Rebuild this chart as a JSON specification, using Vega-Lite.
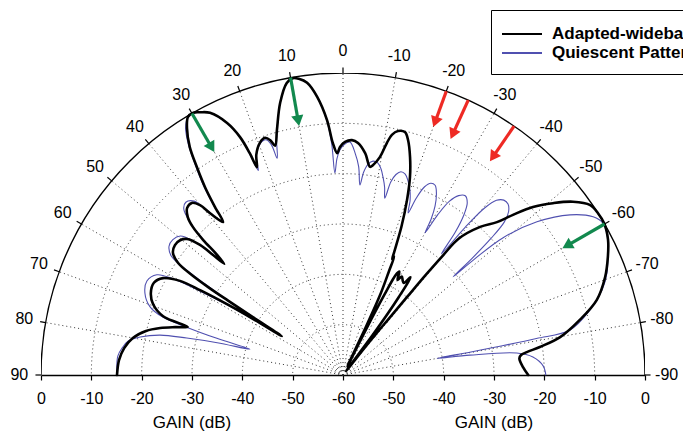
{
"$schema":"https://vega.github.io/schema/vega-lite/v6.json",
"width":604,"height":302,
"autosize":{"type":"none"},
"padding":{"left":41,"top":73,"right":38,"bottom":57},
"background":"#ffffff",
"config":{"view":{"stroke":null},"font":"Liberation Sans",
 "axisX":{"grid":false,"domainColor":"#000000","domainWidth":1.3,"tickColor":"#000000","tickWidth":1.2,"tickSize":5,"labelFontSize":16,"labelColor":"#000000","labelPadding":10,"labelFont":"Liberation Sans","labelFlush":false,"labelOverlap":false}},
"datasets":{
"rings":[{"g":-50},{"g":-40},{"g":-30},{"g":-20},{"g":-10}],
"outer":[{"g":0}],
"angles":[{"a":-90},{"a":-80},{"a":-70},{"a":-60},{"a":-50},{"a":-40},{"a":-30},{"a":-20},{"a":-10},{"a":0},{"a":10},{"a":20},{"a":30},{"a":40},{"a":50},{"a":60},{"a":70},{"a":80},{"a":90}],
"arrows":[{"kind":"peak","a":30,"g0":0,"g1":-7.8},{"kind":"peak","a":10,"g0":0,"g1":-8.7},{"kind":"peak","a":-60,"g0":0,"g1":-8.6},{"kind":"null","a":-20,"g0":0,"g1":-6.5},{"kind":"null","a":-24.5,"g0":0,"g1":-7.4},{"kind":"null","a":-34.5,"g0":0,"g1":-7.4}],
"titles":[{"x":-30,"t":"GAIN (dB)"},{"x":30,"t":"GAIN (dB)"}],
"pattern":[
{"s":"Quiescent Pattern","a":90,"g":-15.1},{"s":"Quiescent Pattern","a":85.2,"g":-15.1},{"s":"Quiescent Pattern","a":83.0,"g":-15.8},{"s":"Quiescent Pattern","a":81.0,"g":-16.8},{"s":"Quiescent Pattern","a":79.4,"g":-19},{"s":"Quiescent Pattern","a":77.7,"g":-22.8},{"s":"Quiescent Pattern","a":76.7,"g":-28.1},{"s":"Quiescent Pattern","a":75.6,"g":-34.2},{"s":"Quiescent Pattern","a":74.5,"g":-40.8},{"s":"Quiescent Pattern","a":73.8,"g":-33.9},{"s":"Quiescent Pattern","a":73.0,"g":-27.5},{"s":"Quiescent Pattern","a":72.2,"g":-22.4},{"s":"Quiescent Pattern","a":70.5,"g":-19.3},{"s":"Quiescent Pattern","a":67.5,"g":-17.4},{"s":"Quiescent Pattern","a":64.4,"g":-16.8},{"s":"Quiescent Pattern","a":61.7,"g":-18},{"s":"Quiescent Pattern","a":60.5,"g":-21.2},{"s":"Quiescent Pattern","a":59.6,"g":-27},{"s":"Quiescent Pattern","a":58.8,"g":-33},{"s":"Quiescent Pattern","a":58.2,"g":-39},{"s":"Quiescent Pattern","a":57.6,"g":-45},{"s":"Quiescent Pattern","a":57.2,"g":-38.5},{"s":"Quiescent Pattern","a":57.0,"g":-32},{"s":"Quiescent Pattern","a":56.6,"g":-27},{"s":"Quiescent Pattern","a":56.0,"g":-21.5},{"s":"Quiescent Pattern","a":55.3,"g":-18.5},{"s":"Quiescent Pattern","a":53.5,"g":-17},{"s":"Quiescent Pattern","a":51.5,"g":-16.8},{"s":"Quiescent Pattern","a":49.5,"g":-17.5},{"s":"Quiescent Pattern","a":48.2,"g":-20},{"s":"Quiescent Pattern","a":47.4,"g":-24},{"s":"Quiescent Pattern","a":46.9,"g":-27.7},{"s":"Quiescent Pattern","a":46.3,"g":-24},{"s":"Quiescent Pattern","a":45.8,"g":-20.5},{"s":"Quiescent Pattern","a":45.0,"g":-17},{"s":"Quiescent Pattern","a":43.8,"g":-14.3},{"s":"Quiescent Pattern","a":42.3,"g":-13.6},{"s":"Quiescent Pattern","a":40.6,"g":-14.5},{"s":"Quiescent Pattern","a":39.6,"g":-17.5},{"s":"Quiescent Pattern","a":38.1,"g":-21.4},{"s":"Quiescent Pattern","a":37.3,"g":-17.5},{"s":"Quiescent Pattern","a":36.3,"g":-13},{"s":"Quiescent Pattern","a":35.1,"g":-9},{"s":"Quiescent Pattern","a":33.9,"g":-5},{"s":"Quiescent Pattern","a":32.5,"g":-1.8},{"s":"Quiescent Pattern","a":31.0,"g":-0.2},{"s":"Quiescent Pattern","a":29.7,"g":0},{"s":"Quiescent Pattern","a":28.5,"g":-0.6},{"s":"Quiescent Pattern","a":26.9,"g":-1.6},{"s":"Quiescent Pattern","a":24.7,"g":-4.9},{"s":"Quiescent Pattern","a":23.4,"g":-8.5},{"s":"Quiescent Pattern","a":22.9,"g":-12},{"s":"Quiescent Pattern","a":22.5,"g":-16},{"s":"Quiescent Pattern","a":21.5,"g":-13},{"s":"Quiescent Pattern","a":19.7,"g":-11.2},{"s":"Quiescent Pattern","a":18.2,"g":-10.8},{"s":"Quiescent Pattern","a":17.3,"g":-12},{"s":"Quiescent Pattern","a":16.9,"g":-15},{"s":"Quiescent Pattern","a":15.8,"g":-11.5},{"s":"Quiescent Pattern","a":15.0,"g":-9.4},{"s":"Quiescent Pattern","a":13.0,"g":-4.5},{"s":"Quiescent Pattern","a":10.9,"g":-0.9},{"s":"Quiescent Pattern","a":9.6,"g":-0.2},{"s":"Quiescent Pattern","a":8.5,"g":-0.5},{"s":"Quiescent Pattern","a":7.0,"g":-1.5},{"s":"Quiescent Pattern","a":5.3,"g":-4.5},{"s":"Quiescent Pattern","a":3.6,"g":-9.5},{"s":"Quiescent Pattern","a":2.8,"g":-14},{"s":"Quiescent Pattern","a":2.3,"g":-19.8},{"s":"Quiescent Pattern","a":1.6,"g":-17},{"s":"Quiescent Pattern","a":0.8,"g":-15.3},{"s":"Quiescent Pattern","a":-0.3,"g":-14.2},{"s":"Quiescent Pattern","a":-1.7,"g":-13.7},{"s":"Quiescent Pattern","a":-3.1,"g":-15.8},{"s":"Quiescent Pattern","a":-4.3,"g":-18.5},{"s":"Quiescent Pattern","a":-5.1,"g":-22.1},{"s":"Quiescent Pattern","a":-5.8,"g":-19.5},{"s":"Quiescent Pattern","a":-6.8,"g":-17.8},{"s":"Quiescent Pattern","a":-8.0,"g":-17.1},{"s":"Quiescent Pattern","a":-9.3,"g":-17.3},{"s":"Quiescent Pattern","a":-10.4,"g":-18.3},{"s":"Quiescent Pattern","a":-11.5,"g":-20},{"s":"Quiescent Pattern","a":-12.5,"g":-21.8},{"s":"Quiescent Pattern","a":-13.3,"g":-23.9},{"s":"Quiescent Pattern","a":-13.9,"g":-20.5},{"s":"Quiescent Pattern","a":-14.8,"g":-18.8},{"s":"Quiescent Pattern","a":-15.9,"g":-18.0},{"s":"Quiescent Pattern","a":-17.2,"g":-18.2},{"s":"Quiescent Pattern","a":-18.5,"g":-19.3},{"s":"Quiescent Pattern","a":-19.8,"g":-20.8},{"s":"Quiescent Pattern","a":-21.0,"g":-22.8},{"s":"Quiescent Pattern","a":-21.9,"g":-25.3},{"s":"Quiescent Pattern","a":-22.5,"g":-22},{"s":"Quiescent Pattern","a":-23.4,"g":-19.3},{"s":"Quiescent Pattern","a":-24.6,"g":-18.1},{"s":"Quiescent Pattern","a":-25.9,"g":-18.1},{"s":"Quiescent Pattern","a":-27.2,"g":-19.4},{"s":"Quiescent Pattern","a":-28.6,"g":-21.8},{"s":"Quiescent Pattern","a":-29.5,"g":-24.5},{"s":"Quiescent Pattern","a":-30.0,"g":-27.4},{"s":"Quiescent Pattern","a":-30.6,"g":-23},{"s":"Quiescent Pattern","a":-31.5,"g":-19.5},{"s":"Quiescent Pattern","a":-32.8,"g":-17.6},{"s":"Quiescent Pattern","a":-34.3,"g":-16.9},{"s":"Quiescent Pattern","a":-35.8,"g":-17.8},{"s":"Quiescent Pattern","a":-37.0,"g":-20},{"s":"Quiescent Pattern","a":-38.2,"g":-24},{"s":"Quiescent Pattern","a":-39.1,"g":-29},{"s":"Quiescent Pattern","a":-39.6,"g":-22},{"s":"Quiescent Pattern","a":-40.3,"g":-16.5},{"s":"Quiescent Pattern","a":-41.3,"g":-13.8},{"s":"Quiescent Pattern","a":-42.6,"g":-12.8},{"s":"Quiescent Pattern","a":-44.0,"g":-12.8},{"s":"Quiescent Pattern","a":-45.4,"g":-13.8},{"s":"Quiescent Pattern","a":-46.5,"g":-15.8},{"s":"Quiescent Pattern","a":-47.3,"g":-20},{"s":"Quiescent Pattern","a":-47.9,"g":-25.5},{"s":"Quiescent Pattern","a":-48.3,"g":-30.7},{"s":"Quiescent Pattern","a":-48.6,"g":-25.1},{"s":"Quiescent Pattern","a":-49.4,"g":-18},{"s":"Quiescent Pattern","a":-51.7,"g":-10.9},{"s":"Quiescent Pattern","a":-54.8,"g":-4.8},{"s":"Quiescent Pattern","a":-57.7,"g":-1.2},{"s":"Quiescent Pattern","a":-59.7,"g":-0.2},{"s":"Quiescent Pattern","a":-63.0,"g":-0.9},{"s":"Quiescent Pattern","a":-66.0,"g":-2.4},{"s":"Quiescent Pattern","a":-68.9,"g":-3.8},{"s":"Quiescent Pattern","a":-71.8,"g":-5.8},{"s":"Quiescent Pattern","a":-75.3,"g":-9.3},{"s":"Quiescent Pattern","a":-78.8,"g":-14},{"s":"Quiescent Pattern","a":-79.3,"g":-20.9},{"s":"Quiescent Pattern","a":-79.6,"g":-27.8},{"s":"Quiescent Pattern","a":-79.8,"g":-34.4},{"s":"Quiescent Pattern","a":-80.0,"g":-41},{"s":"Quiescent Pattern","a":-81.1,"g":-34.5},{"s":"Quiescent Pattern","a":-82.8,"g":-25.2},{"s":"Quiescent Pattern","a":-84.6,"g":-22.1},{"s":"Quiescent Pattern","a":-87.4,"g":-20.2},{"s":"Quiescent Pattern","a":-90,"g":-19.7},
{"s":"Adapted-wideband","a":90,"g":-15.1},{"s":"Adapted-wideband","a":86.2,"g":-15.4},{"s":"Adapted-wideband","a":83.0,"g":-16.2},{"s":"Adapted-wideband","a":80.0,"g":-17.6},{"s":"Adapted-wideband","a":77.4,"g":-19.9},{"s":"Adapted-wideband","a":75.6,"g":-22.5},{"s":"Adapted-wideband","a":74.1,"g":-25.3},{"s":"Adapted-wideband","a":72.8,"g":-27.7},{"s":"Adapted-wideband","a":72.4,"g":-25.4},{"s":"Adapted-wideband","a":71.9,"g":-22.4},{"s":"Adapted-wideband","a":69.5,"g":-19.7},{"s":"Adapted-wideband","a":66.9,"g":-18.5},{"s":"Adapted-wideband","a":64.0,"g":-18.2},{"s":"Adapted-wideband","a":61.7,"g":-19.4},{"s":"Adapted-wideband","a":60.0,"g":-22.6},{"s":"Adapted-wideband","a":59.3,"g":-27.1},{"s":"Adapted-wideband","a":58.6,"g":-33.2},{"s":"Adapted-wideband","a":58.1,"g":-38.9},{"s":"Adapted-wideband","a":57.6,"g":-45.6},{"s":"Adapted-wideband","a":57.3,"g":-38.8},{"s":"Adapted-wideband","a":57.1,"g":-32.8},{"s":"Adapted-wideband","a":56.9,"g":-28.1},{"s":"Adapted-wideband","a":56.5,"g":-23.9},{"s":"Adapted-wideband","a":55.8,"g":-20.4},{"s":"Adapted-wideband","a":54.3,"g":-18.4},{"s":"Adapted-wideband","a":52.3,"g":-17.8},{"s":"Adapted-wideband","a":50.4,"g":-18},{"s":"Adapted-wideband","a":48.9,"g":-18.9},{"s":"Adapted-wideband","a":47.7,"g":-21.6},{"s":"Adapted-wideband","a":47.3,"g":-24.8},{"s":"Adapted-wideband","a":46.9,"g":-27.7},{"s":"Adapted-wideband","a":46.3,"g":-25.1},{"s":"Adapted-wideband","a":46.0,"g":-21.4},{"s":"Adapted-wideband","a":45.4,"g":-18.1},{"s":"Adapted-wideband","a":44.5,"g":-16},{"s":"Adapted-wideband","a":43.0,"g":-14.6},{"s":"Adapted-wideband","a":41.3,"g":-14.5},{"s":"Adapted-wideband","a":40.1,"g":-15.9},{"s":"Adapted-wideband","a":39.4,"g":-18.4},{"s":"Adapted-wideband","a":38.1,"g":-21.4},{"s":"Adapted-wideband","a":37.3,"g":-18},{"s":"Adapted-wideband","a":36.3,"g":-13.7},{"s":"Adapted-wideband","a":35.1,"g":-9.5},{"s":"Adapted-wideband","a":33.9,"g":-5.4},{"s":"Adapted-wideband","a":32.3,"g":-2},{"s":"Adapted-wideband","a":31.0,"g":-0.2},{"s":"Adapted-wideband","a":29.7,"g":0},{"s":"Adapted-wideband","a":28.5,"g":-0.6},{"s":"Adapted-wideband","a":26.9,"g":-1.6},{"s":"Adapted-wideband","a":24.7,"g":-4.9},{"s":"Adapted-wideband","a":23.4,"g":-8.5},{"s":"Adapted-wideband","a":22.8,"g":-12.2},{"s":"Adapted-wideband","a":22.5,"g":-15.3},{"s":"Adapted-wideband","a":21.5,"g":-13},{"s":"Adapted-wideband","a":19.7,"g":-11},{"s":"Adapted-wideband","a":18.2,"g":-10.4},{"s":"Adapted-wideband","a":17.2,"g":-11.2},{"s":"Adapted-wideband","a":16.5,"g":-12.5},{"s":"Adapted-wideband","a":15.1,"g":-9.6},{"s":"Adapted-wideband","a":13.0,"g":-4.5},{"s":"Adapted-wideband","a":10.9,"g":-0.9},{"s":"Adapted-wideband","a":9.6,"g":-0.2},{"s":"Adapted-wideband","a":8.5,"g":-0.5},{"s":"Adapted-wideband","a":7.0,"g":-1.5},{"s":"Adapted-wideband","a":5.3,"g":-4.5},{"s":"Adapted-wideband","a":3.6,"g":-9.2},{"s":"Adapted-wideband","a":2.5,"g":-13.9},{"s":"Adapted-wideband","a":1.5,"g":-15.9},{"s":"Adapted-wideband","a":0.75,"g":-14.7},{"s":"Adapted-wideband","a":-0.5,"g":-13.7},{"s":"Adapted-wideband","a":-2.2,"g":-13.3},{"s":"Adapted-wideband","a":-3.7,"g":-13.8},{"s":"Adapted-wideband","a":-5.7,"g":-15.7},{"s":"Adapted-wideband","a":-7.4,"g":-18.3},{"s":"Adapted-wideband","a":-8.1,"g":-17.9},{"s":"Adapted-wideband","a":-9.6,"g":-16.1},{"s":"Adapted-wideband","a":-10.7,"g":-13.1},{"s":"Adapted-wideband","a":-11.5,"g":-11.3},{"s":"Adapted-wideband","a":-12.7,"g":-10.3},{"s":"Adapted-wideband","a":-14.3,"g":-10.2},{"s":"Adapted-wideband","a":-15.5,"g":-11.6},{"s":"Adapted-wideband","a":-17.1,"g":-14.7},{"s":"Adapted-wideband","a":-18.7,"g":-18.5},{"s":"Adapted-wideband","a":-20.1,"g":-23},{"s":"Adapted-wideband","a":-21.5,"g":-28.3},{"s":"Adapted-wideband","a":-22.6,"g":-33.5},{"s":"Adapted-wideband","a":-23.0,"g":-35},{"s":"Adapted-wideband","a":-23.4,"g":-34.4},{"s":"Adapted-wideband","a":-23.9,"g":-37.5},{"s":"Adapted-wideband","a":-24.8,"g":-42},{"s":"Adapted-wideband","a":-25.5,"g":-50},{"s":"Adapted-wideband","a":-26.2,"g":-58},{"s":"Adapted-wideband","a":-26.8,"g":-50},{"s":"Adapted-wideband","a":-27.3,"g":-42},{"s":"Adapted-wideband","a":-27.8,"g":-37.5},{"s":"Adapted-wideband","a":-28.6,"g":-36.6},{"s":"Adapted-wideband","a":-29.8,"g":-38.2},{"s":"Adapted-wideband","a":-30.8,"g":-37.2},{"s":"Adapted-wideband","a":-32.3,"g":-37.8},{"s":"Adapted-wideband","a":-33.5,"g":-38.1},{"s":"Adapted-wideband","a":-34.6,"g":-36.4},{"s":"Adapted-wideband","a":-35.6,"g":-41},{"s":"Adapted-wideband","a":-36.6,"g":-50},{"s":"Adapted-wideband","a":-37.6,"g":-59},{"s":"Adapted-wideband","a":-38.6,"g":-52},{"s":"Adapted-wideband","a":-39.1,"g":-46},{"s":"Adapted-wideband","a":-39.4,"g":-40},{"s":"Adapted-wideband","a":-39.6,"g":-34},{"s":"Adapted-wideband","a":-39.9,"g":-29},{"s":"Adapted-wideband","a":-40.3,"g":-24.5},{"s":"Adapted-wideband","a":-42.8,"g":-19.9},{"s":"Adapted-wideband","a":-45.2,"g":-16.9},{"s":"Adapted-wideband","a":-46.7,"g":-13.6},{"s":"Adapted-wideband","a":-48.5,"g":-9.6},{"s":"Adapted-wideband","a":-50.7,"g":-6.1},{"s":"Adapted-wideband","a":-53.0,"g":-2.8},{"s":"Adapted-wideband","a":-55.5,"g":-0.4},{"s":"Adapted-wideband","a":-57.6,"g":0},{"s":"Adapted-wideband","a":-59.9,"g":0},{"s":"Adapted-wideband","a":-63.0,"g":-0.9},{"s":"Adapted-wideband","a":-66.0,"g":-2.4},{"s":"Adapted-wideband","a":-69.5,"g":-4.4},{"s":"Adapted-wideband","a":-73.5,"g":-7.4},{"s":"Adapted-wideband","a":-76.9,"g":-11.7},{"s":"Adapted-wideband","a":-80.1,"g":-16.2},{"s":"Adapted-wideband","a":-81.9,"g":-20.5},{"s":"Adapted-wideband","a":-82.9,"g":-23.2},{"s":"Adapted-wideband","a":-83.6,"g":-24.4},{"s":"Adapted-wideband","a":-84.6,"g":-24.8},{"s":"Adapted-wideband","a":-87.5,"g":-24.2},{"s":"Adapted-wideband","a":-90,"g":-23.2}
]},
"layer":[
{"data":{"name":"rings"},
 "transform":[{"calculate":"datum.g + 60","as":"r"},{"calculate":"0","as":"cx"}],
 "mark":{"type":"point","shape":"circle","filled":false,"clip":true,"stroke":"#333333","strokeWidth":1,"strokeDash":[1,3],"opacity":1},
 "encoding":{
  "x":{"field":"cx","type":"quantitative","scale":{"domain":[-60,60],"nice":false,"zero":false},"axis":{"values":[-60,-50,-40,-30,-20,-10,0,10,20,30,40,50,60],"labelExpr":"'' + (abs(datum.value) - 60)","title":null}},
  "y":{"field":"cx","type":"quantitative","scale":{"domain":[0,60],"nice":false,"zero":false},"axis":null},
  "size":{"field":"r","type":"quantitative","scale":{"type":"pow","exponent":2,"domain":[0,60],"range":[0,364816]},"legend":null}}},
{"data":{"name":"angles"},
 "transform":[{"filter":"abs(datum.a) < 90"},{"calculate":"0","as":"cx"},{"calculate":"-60*sin(datum.a*PI/180)","as":"ex"},{"calculate":"60*cos(datum.a*PI/180)","as":"ey"}],
 "mark":{"type":"rule","stroke":"#333333","strokeWidth":1,"strokeDash":[1,3]},
 "encoding":{
  "x":{"field":"cx","type":"quantitative","scale":{"domain":[-60,60],"nice":false,"zero":false},"axis":{"values":[-60,-50,-40,-30,-20,-10,0,10,20,30,40,50,60],"labelExpr":"'' + (abs(datum.value) - 60)","title":null}},
  "y":{"field":"cx","type":"quantitative","scale":{"domain":[0,60],"nice":false,"zero":false},"axis":null},
  "x2":{"field":"ex"},"y2":{"field":"ey"}}},
{"data":{"name":"outer"},
 "transform":[{"calculate":"datum.g + 60","as":"r"},{"calculate":"0","as":"cx"}],
 "mark":{"type":"point","shape":"circle","filled":false,"clip":true,"stroke":"#000000","strokeWidth":1.4,"opacity":1},
 "encoding":{
  "x":{"field":"cx","type":"quantitative","scale":{"domain":[-60,60],"nice":false,"zero":false},"axis":{"values":[-60,-50,-40,-30,-20,-10,0,10,20,30,40,50,60],"labelExpr":"'' + (abs(datum.value) - 60)","title":null}},
  "y":{"field":"cx","type":"quantitative","scale":{"domain":[0,60],"nice":false,"zero":false},"axis":null},
  "size":{"field":"r","type":"quantitative","scale":{"type":"pow","exponent":2,"domain":[0,60],"range":[0,364816]},"legend":null}}},
{"data":{"name":"angles"},
 "transform":[{"calculate":"-60*sin(datum.a*PI/180)","as":"tx"},{"calculate":"60*cos(datum.a*PI/180)","as":"ty"},{"calculate":"-61.1*sin(datum.a*PI/180)","as":"tx2"},{"calculate":"61.1*cos(datum.a*PI/180)","as":"ty2"}],
 "mark":{"type":"rule","stroke":"#000000","strokeWidth":1.2},
 "encoding":{
  "x":{"field":"tx","type":"quantitative","scale":{"domain":[-60,60],"nice":false,"zero":false},"axis":{"values":[-60,-50,-40,-30,-20,-10,0,10,20,30,40,50,60],"labelExpr":"'' + (abs(datum.value) - 60)","title":null}},
  "y":{"field":"ty","type":"quantitative","scale":{"domain":[0,60],"nice":false,"zero":false},"axis":null},
  "x2":{"field":"tx2"},"y2":{"field":"ty2"}}},
{"data":{"name":"angles"},
 "transform":[{"calculate":"-64.3*sin(datum.a*PI/180)","as":"lx"},{"calculate":"64.3*cos(datum.a*PI/180)","as":"ly"}],
 "mark":{"type":"text","fontSize":16,"font":"Liberation Sans","color":"#000000","align":"center","baseline":"middle"},
 "encoding":{
  "x":{"field":"lx","type":"quantitative","scale":{"domain":[-60,60],"nice":false,"zero":false},"axis":{"values":[-60,-50,-40,-30,-20,-10,0,10,20,30,40,50,60],"labelExpr":"'' + (abs(datum.value) - 60)","title":null}},
  "y":{"field":"ly","type":"quantitative","scale":{"domain":[0,60],"nice":false,"zero":false},"axis":null},
  "text":{"field":"a","type":"nominal"}}},
{"data":{"name":"pattern"},
 "transform":[{"filter":"datum.s === 'Quiescent Pattern'"},{"calculate":"max(datum.g + 60, 0)","as":"r"},{"calculate":"-datum.r*sin(datum.a*PI/180)","as":"px"},{"calculate":"datum.r*cos(datum.a*PI/180)","as":"py"}],
 "mark":{"type":"line","interpolate":"catmull-rom","strokeJoin":"round","strokeCap":"round","strokeWidth":1.1},
 "encoding":{
  "x":{"field":"px","type":"quantitative","scale":{"domain":[-60,60],"nice":false,"zero":false},"axis":{"values":[-60,-50,-40,-30,-20,-10,0,10,20,30,40,50,60],"labelExpr":"'' + (abs(datum.value) - 60)","title":null}},
  "y":{"field":"py","type":"quantitative","scale":{"domain":[0,60],"nice":false,"zero":false},"axis":null},
  "order":{"field":"a","sort":"descending"},
  "color":{"field":"s","type":"nominal","scale":{"domain":["Adapted-wideband","Quiescent Pattern"],"range":["#000000","#5050b0"]},"legend":{"orient":"none","legendX":450,"legendY":-63,"title":null,"symbolType":"M-1.3,0L2.7,0","symbolSize":400,"symbolStrokeWidth":2,"labelFontSize":17,"labelFontWeight":"bold","labelFont":"Liberation Sans","labelColor":"#000000","strokeColor":"#000000","fillColor":"#ffffff","padding":13,"rowPadding":0,"labelOffset":26,"labelLimit":400}}}},
{"data":{"name":"pattern"},
 "transform":[{"filter":"datum.s === 'Adapted-wideband'"},{"calculate":"max(datum.g + 60, 0)","as":"r"},{"calculate":"-datum.r*sin(datum.a*PI/180)","as":"px"},{"calculate":"datum.r*cos(datum.a*PI/180)","as":"py"}],
 "mark":{"type":"line","interpolate":"catmull-rom","strokeJoin":"round","strokeCap":"round","strokeWidth":2.6},
 "encoding":{
  "x":{"field":"px","type":"quantitative","scale":{"domain":[-60,60],"nice":false,"zero":false},"axis":{"values":[-60,-50,-40,-30,-20,-10,0,10,20,30,40,50,60],"labelExpr":"'' + (abs(datum.value) - 60)","title":null}},
  "y":{"field":"py","type":"quantitative","scale":{"domain":[0,60],"nice":false,"zero":false},"axis":null},
  "order":{"field":"a","sort":"descending"},
  "color":{"field":"s","type":"nominal","scale":{"domain":["Adapted-wideband","Quiescent Pattern"],"range":["#000000","#5050b0"]},"legend":{"orient":"none","legendX":450,"legendY":-63,"title":null,"symbolType":"M-1.3,0L2.7,0","symbolSize":400,"symbolStrokeWidth":2,"labelFontSize":17,"labelFontWeight":"bold","labelFont":"Liberation Sans","labelColor":"#000000","strokeColor":"#000000","fillColor":"#ffffff","padding":13,"rowPadding":0,"labelOffset":26,"labelLimit":400}}}},
{"data":{"name":"arrows"},
 "transform":[{"calculate":"-(datum.g0+60)*sin(datum.a*PI/180)","as":"x0"},{"calculate":"(datum.g0+60)*cos(datum.a*PI/180)","as":"y0"},{"calculate":"-(datum.g1+60)*sin(datum.a*PI/180)","as":"x1"},{"calculate":"(datum.g1+60)*cos(datum.a*PI/180)","as":"y1"}],
 "mark":{"type":"rule","strokeWidth":3.2},
 "encoding":{
  "x":{"field":"x0","type":"quantitative","scale":{"domain":[-60,60],"nice":false,"zero":false},"axis":{"values":[-60,-50,-40,-30,-20,-10,0,10,20,30,40,50,60],"labelExpr":"'' + (abs(datum.value) - 60)","title":null}},
  "y":{"field":"y0","type":"quantitative","scale":{"domain":[0,60],"nice":false,"zero":false},"axis":null},
  "x2":{"field":"x1"},"y2":{"field":"y1"},
  "color":{"condition":{"test":"datum.kind === 'peak'","value":"#12894e"},"value":"#ee2a24"}}},
{"data":{"name":"arrows"},
 "transform":[{"calculate":"-(datum.g1+60)*sin(datum.a*PI/180)","as":"x1"},{"calculate":"(datum.g1+60)*cos(datum.a*PI/180)","as":"y1"},{"calculate":"180 - datum.a","as":"rot"}],
 "mark":{"type":"point","shape":"triangle-up","filled":true,"size":150,"opacity":1},
 "encoding":{
  "x":{"field":"x1","type":"quantitative","scale":{"domain":[-60,60],"nice":false,"zero":false},"axis":{"values":[-60,-50,-40,-30,-20,-10,0,10,20,30,40,50,60],"labelExpr":"'' + (abs(datum.value) - 60)","title":null}},
  "y":{"field":"y1","type":"quantitative","scale":{"domain":[0,60],"nice":false,"zero":false},"axis":null},
  "angle":{"field":"rot","type":"quantitative","scale":null},
  "color":{"condition":{"test":"datum.kind === 'peak'","value":"#12894e"},"value":"#ee2a24"}}},
{"data":{"name":"titles"},
 "transform":[{"calculate":"-9.5","as":"ty"}],
 "mark":{"type":"text","fontSize":17,"font":"Liberation Sans","color":"#000000","align":"center","baseline":"middle"},
 "encoding":{
  "x":{"field":"x","type":"quantitative","scale":{"domain":[-60,60],"nice":false,"zero":false},"axis":{"values":[-60,-50,-40,-30,-20,-10,0,10,20,30,40,50,60],"labelExpr":"'' + (abs(datum.value) - 60)","title":null}},
  "y":{"field":"ty","type":"quantitative","scale":{"domain":[0,60],"nice":false,"zero":false},"axis":null},
  "text":{"field":"t","type":"nominal"}}}
]
}
